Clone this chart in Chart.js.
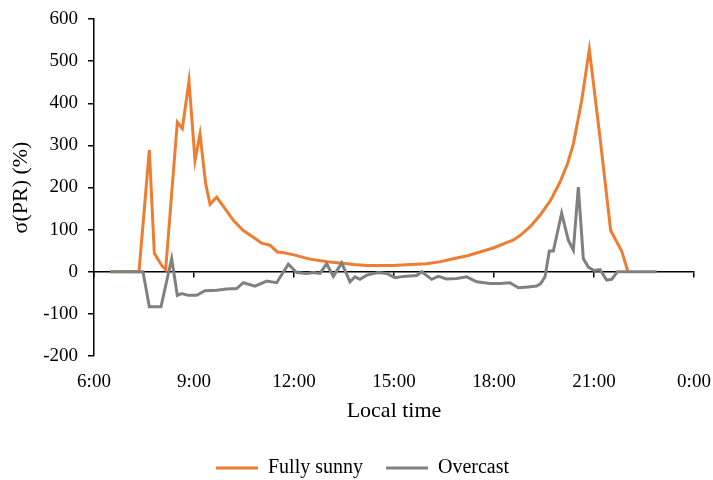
<!DOCTYPE html>
<html>
<head>
<meta charset="utf-8">
<script src="https://cdn.jsdelivr.net/npm/chart.js@4.4.1/dist/chart.umd.min.js"></script>
<style>
html,body{margin:0;padding:0;background:#fff;}
#wrap{width:713px;height:480px;position:relative;}
</style>
</head>
<body>
<div id="wrap"><canvas id="c" width="713" height="480"></canvas></div>
<script>
// Time of day in hours, values of sigma(PR) in %
const sunnyTime = [6.5, 7.35, 7.66, 7.81, 8.03, 8.15, 8.5, 8.65, 8.85, 9.03, 9.18, 9.35, 9.48, 9.68, 9.93, 10.18, 10.48, 10.78, 11.03, 11.28, 11.5, 11.7, 12.0, 12.48, 13.0, 13.38, 13.8, 14.18, 14.98, 15.5, 15.98, 16.4, 16.78, 17.2, 17.58, 18.0, 18.3, 18.57, 18.78, 19.1, 19.38, 19.7, 19.98, 20.2, 20.38, 20.63, 20.86, 21.18, 21.5, 21.83, 22.02];
const sunnyValue = [0, 0, 289, 44, 15, 5, 355, 340, 453, 264, 327, 209, 160, 177, 150, 122, 98, 82, 68, 63, 47, 45, 40, 30, 24, 21, 17, 15, 15, 17, 19, 24, 31, 38, 47, 57, 67, 75, 86, 108, 134, 170, 213, 255, 303, 406, 528, 319, 98, 49, 0];
const overcastTime = [6.48, 7.47, 7.66, 8.01, 8.33, 8.5, 8.63, 8.83, 9.08, 9.33, 9.68, 9.98, 10.28, 10.48, 10.83, 11.18, 11.48, 11.83, 12.08, 12.38, 12.58, 12.78, 12.98, 13.18, 13.43, 13.68, 13.83, 13.98, 14.18, 14.53, 14.78, 15.03, 15.28, 15.68, 15.83, 16.13, 16.33, 16.58, 16.88, 17.18, 17.48, 17.88, 18.18, 18.48, 18.73, 19.03, 19.28, 19.4, 19.53, 19.66, 19.78, 20.03, 20.23, 20.38, 20.53, 20.68, 20.83, 21.0, 21.18, 21.38, 21.53, 21.7, 22.88];
const overcastValue = [0, 0, -83, -83, 31, -56, -52, -56, -56, -45, -44, -41, -40, -26, -34, -22, -26, 18, -2, -4, -2, -4, 19, -11, 21, -24, -12, -18, -8, -2, -4, -14, -11, -9, 0, -18, -11, -17, -16, -12, -24, -28, -28, -26, -38, -36, -34, -28, -12, 49, 49, 139, 75, 51, 201, 31, 11, 3, 5, -20, -18, 0, 0];
const xTicks = [6, 9, 12, 15, 18, 21, 24];
const seriesNames = ['Fully sunny', 'Overcast'];

const toPts = (ts, vs) => ts.map((t, i) => ({x: t, y: vs[i]}));
const serif = 'Liberation Serif, Times New Roman, serif';

new Chart(document.getElementById('c'), {
  type: 'line',
  data: {
    datasets: [
      {label: seriesNames[0], data: toPts(sunnyTime, sunnyValue), borderColor: '#ED7D31', backgroundColor: '#ED7D31', borderWidth: 3, pointRadius: 0, tension: 0, order: 1},
      {label: seriesNames[1], data: toPts(overcastTime, overcastValue), borderColor: '#808080', backgroundColor: '#808080', borderWidth: 3, pointRadius: 0, tension: 0, order: 0}
    ]
  },
  options: {
    responsive: false,
    animation: false,
    events: [],
    layout: {padding: {left: 12, right: 0, top: 19, bottom: -8}},
    plugins: {
      tooltip: {enabled: false},
      legend: {
        position: 'bottom',
        labels: {
          usePointStyle: true,
          pointStyle: 'line',
          pointStyleWidth: 42,
          boxHeight: 3,
          padding: 23,
          color: '#000',
          font: {family: serif, size: 20},
          sort: (a, b) => a.datasetIndex - b.datasetIndex,
          generateLabels: (chart) => chart.data.datasets.map((d, i) => ({
            text: d.label, strokeStyle: d.borderColor, fillStyle: d.borderColor, lineWidth: 3,
            pointStyle: 'line', datasetIndex: i, hidden: false
          }))
        }
      }
    },
    scales: {
      x: {
        type: 'linear',
        position: 'bottom',
        min: 6, max: 24,
        afterBuildTicks: (s) => { s.ticks = xTicks.map(v => ({value: v})); },
        afterFit: (s) => { s.height = 79; s.paddingRight = 19; s.paddingLeft = 0; },
        ticks: {
          color: '#000', font: {family: serif, size: 19}, padding: 15,
          maxRotation: 0, autoSkip: false,
          callback: (v) => (v % 24) + ':00'
        },
        grid: {display: false, drawTicks: false},
        border: {display: false},
        title: {display: true, text: 'Local time', color: '#000', font: {family: serif, size: 22}, padding: {top: 0, bottom: 11}}
      },
      x2: {
        type: 'linear',
        position: {y: 0},
        min: 6, max: 24,
        afterBuildTicks: (s) => { s.ticks = xTicks.map(v => ({value: v})); },
        afterFit: (s) => { s.paddingRight = 0; s.paddingLeft = 0; },
        ticks: {display: false},
        grid: {drawOnChartArea: false, drawTicks: true, tickLength: 5, color: '#000', lineWidth: 1.5},
        border: {display: true, color: '#000', width: 1.5}
      },
      y: {
        min: -200, max: 600,
        afterFit: (s) => { s.width = 82; s.paddingTop = 0; s.paddingBottom = 0; },
        ticks: {stepSize: 100, color: '#000', font: {family: serif, size: 19}, padding: 10},
        grid: {drawOnChartArea: false, drawTicks: true, tickLength: 6, color: '#000', lineWidth: 1.5},
        border: {display: true, color: '#000', width: 1.5},
        title: {display: true, text: 'σ(PR) (%)', color: '#000', font: {family: serif, size: 22}, padding: {top: -4, bottom: 0}}
      }
    }
  }
});
</script>
</body>
</html>
